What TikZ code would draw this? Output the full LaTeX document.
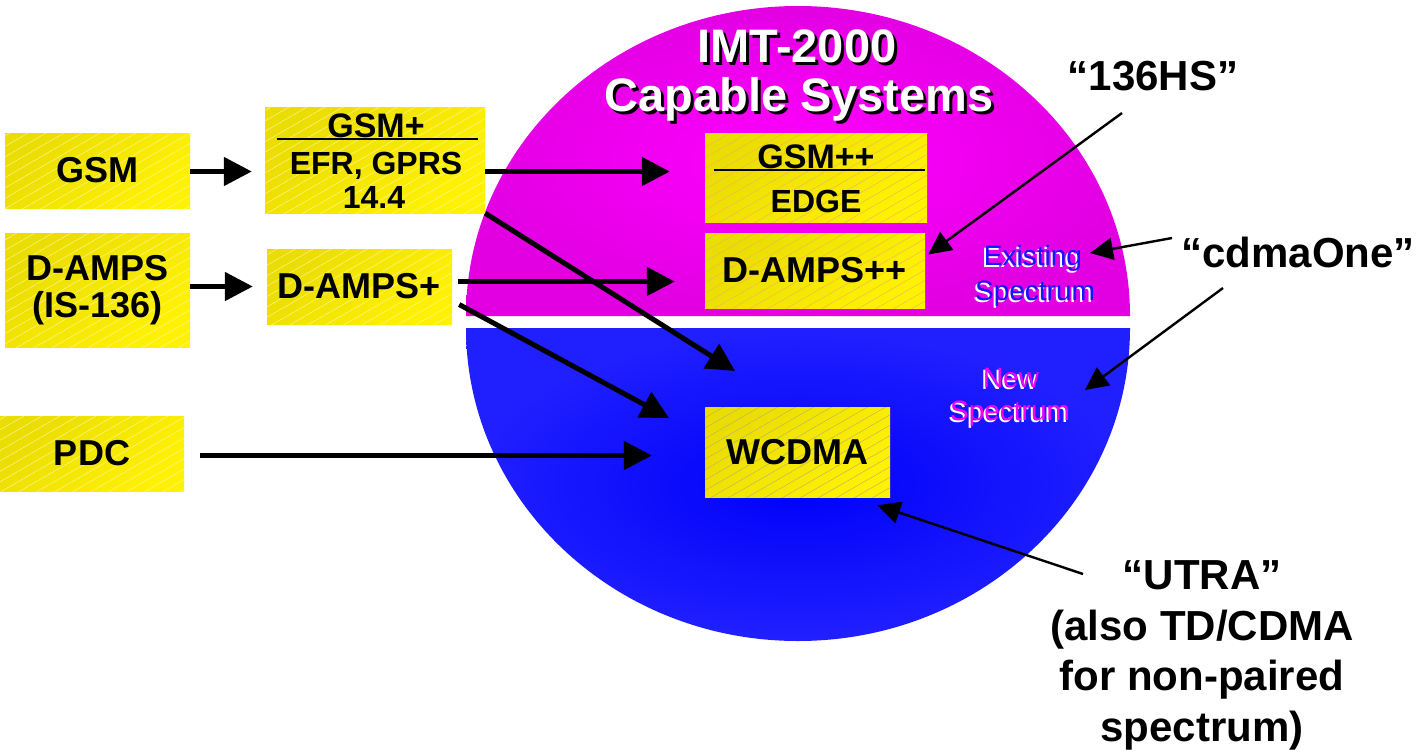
\documentclass[tikz,border=0pt]{standalone}
\usepackage{fontspec}
\setmainfont{Liberation Sans}
\usetikzlibrary{arrows.meta,patterns.meta}

\definecolor{ydark}{RGB}{234,221,0}
\definecolor{ylight}{RGB}{255,242,0}
\definecolor{magin}{RGB}{255,0,255}
\definecolor{magout}{RGB}{226,0,226}
\definecolor{bluein}{RGB}{0,0,250}
\definecolor{blueout}{RGB}{32,32,255}
\definecolor{sptxt}{RGB}{20,20,255}
\definecolor{newtxt}{RGB}{245,0,245}
\definecolor{hatchw}{RGB}{250,246,160}
\definecolor{hatcho}{RGB}{240,178,95}
\definecolor{hatchg}{RGB}{185,175,110}

\newcommand{\bfsz}[2]{\fontsize{#1}{#2}\selectfont\bfseries}
\newcommand{\rgsz}[2]{\fontsize{#1}{#2}\selectfont}

\begin{document}
\begin{tikzpicture}[x=1pt,y=-1pt,
  box/.style={inner sep=0pt, top color=ydark, bottom color=ylight, shading angle=45,
    postaction={pattern={Lines[angle=30,distance=9pt,line width=0.45pt]}, pattern color=#1}},
  box/.default=hatchw,
  txt/.style={inner sep=0pt, anchor=base},
  flow/.style={line width=5pt, -{Triangle[length=28pt,width=28pt]}},
  pointer/.style={line width=2.4pt, -{Triangle[length=23pt,width=22pt]}},
  rulel/.style={line width=2pt},
]
\useasboundingbox (0,0) rectangle (1420,752);

% the two halves of the disc
\shade[inner color=magin, outer color=magout]
  (466,316) arc[start angle=180, end angle=360, x radius=332, y radius=310] -- cycle;
\shade[inner color=bluein, outer color=blueout]
  (466,328) arc[start angle=180, end angle=0, x radius=332, y radius=313] -- cycle;

% title with drop shadow
\node[txt, font=\bfsz{47}{47}, text=black] (t1s) at (800,66) {IMT-2000};
\node[txt, font=\bfsz{47}{47}, text=white] (t1) at (797,63) {IMT-2000};
\node[txt, font=\bfsz{47}{47}, text=black] (t2s) at (802,114) {Capable Systems};
\node[txt, font=\bfsz{47}{47}, text=white] (t2) at (799,111) {Capable Systems};

% spectrum captions
\node[txt, font=\rgsz{28}{28}, text=white] (ex1s) at (1031,267) {Existing};
\node[txt, font=\rgsz{28}{28}, text=sptxt] (ex1) at (1033,265) {Existing};
\node[txt, font=\rgsz{28}{28}, text=white] (ex2s) at (1033,302) {Spectrum};
\node[txt, font=\rgsz{28}{28}, text=sptxt] (ex2) at (1035,300) {Spectrum};
\node[txt, font=\rgsz{28}{28}, text=white] (nw1s) at (1009,389) {New};
\node[txt, font=\rgsz{28}{28}, text=newtxt] (nw1) at (1011,387) {New};
\node[txt, font=\rgsz{28}{28}, text=white] (nw2s) at (1008,422) {Spectrum};
\node[txt, font=\rgsz{28}{28}, text=newtxt] (nw2) at (1010,420) {Spectrum};

% system boxes
\node[box, minimum width=185pt, minimum height=75pt, font=\bfsz{36}{36}] (gsm) at (97.5,170.5) {GSM};
\node[box, minimum width=185pt, minimum height=114pt, font=\bfsz{36}{37}, align=center] (damps) at (97.5,290) {D-AMPS\\(IS-136)};
\node[box, minimum width=184pt, minimum height=75pt, font=\bfsz{36}{36}] (pdc) at (92,453.5) {PDC};

\node[box, minimum width=220pt, minimum height=106pt] (gsmp) at (375,160) {};
\node[txt, font=\bfsz{34}{34}] (gsmpa) at (376,137) {GSM+};
\draw[rulel] (277,138.5) -- (478,138.5);
\node[txt, font=\bfsz{32}{32}] (gsmpb) at (376,174) {EFR, GPRS};
\node[txt, font=\bfsz{32}{32}] (gsmpc) at (374,208) {14.4};

\node[box, minimum width=185pt, minimum height=75pt, font=\bfsz{36}{36}] (dampsp) at (359.5,286.5) {D-AMPS+};

\node[box=hatcho, minimum width=222pt, minimum height=89pt] (gsmpp) at (816,177.5) {};
\node[txt, font=\bfsz{34}{34}] (gsmppa) at (816,168) {GSM++};
\draw[rulel] (714,169.5) -- (925,169.5);
\node[txt, font=\bfsz{32}{32}] (gsmppb) at (816,212) {EDGE};

\node[box=hatcho, minimum width=220pt, minimum height=75pt, font=\bfsz{36}{36}] (dampspp) at (815,270.5) {D-AMPS++};
\node[box=hatchg, minimum width=185pt, minimum height=90pt, font=\bfsz{36}{36}] (wcdma) at (797.5,452) {WCDMA};

% outside labels
\node[txt, font=\bfsz{42}{42}] (hs) at (1153,90) {“136HS”};
\node[txt, font=\bfsz{42}{42}] (cdma) at (1298,267) {“cdmaOne”};
\node[txt, font=\bfsz{42}{42}] (utra1) at (1202,589) {“UTRA”};
\node[txt, font=\bfsz{42}{42}] (utra2) at (1202,640) {(also TD/CDMA};
\node[txt, font=\bfsz{42}{42}] (utra3) at (1202,690) {for non-paired};
\node[txt, font=\bfsz{42}{42}] (utra4) at (1202,741) {spectrum)};

% evolution paths
\coordinate (wa) at (735,371);
\coordinate (wb) at (669,418);
\draw[flow, shorten >=13pt] ([yshift=-1pt]gsm.east) -- ([yshift=-1pt]gsm.east -| gsmp.west);
\draw[flow, shorten >=35pt] ([yshift=-1pt]gsmp.east |- gsm.east) -- ([yshift=-1pt]gsmpp.west |- gsm.east);
\draw[flow, shorten >=14pt] (damps.east |- dampsp.west) -- (dampsp.west);
\draw[flow, shorten <=6pt, shorten >=30pt] ([yshift=5pt]dampsp.east) -- ([yshift=5pt]dampsp.east -| dampspp.west);
\draw[flow] (gsmp.south east) -- (wa);
\draw[flow] ([shift={(7,18)}]dampsp.east) -- (wb);
\draw[flow, shorten <=16pt, shorten >=53pt] ([yshift=-2pt]pdc.east) -- ([yshift=-2pt]pdc.east -| wcdma.west);

% label pointers
\draw[pointer] ([shift={(-31,23)}]hs.base) -- ([shift={(3,-16)}]dampspp.east);
\draw[pointer] ([shift={(-126,-29)}]cdma.base) -- ([shift={(57,-12)}]ex1.base);
\draw[pointer] ([shift={(-75,21)}]cdma.base) -- ([shift={(74,3)}]nw1.base);
\draw[pointer] ([shift={(-119,-15)}]utra1.base) -- ([shift={(-13,8)}]wcdma.south east);
\end{tikzpicture}
\end{document}
